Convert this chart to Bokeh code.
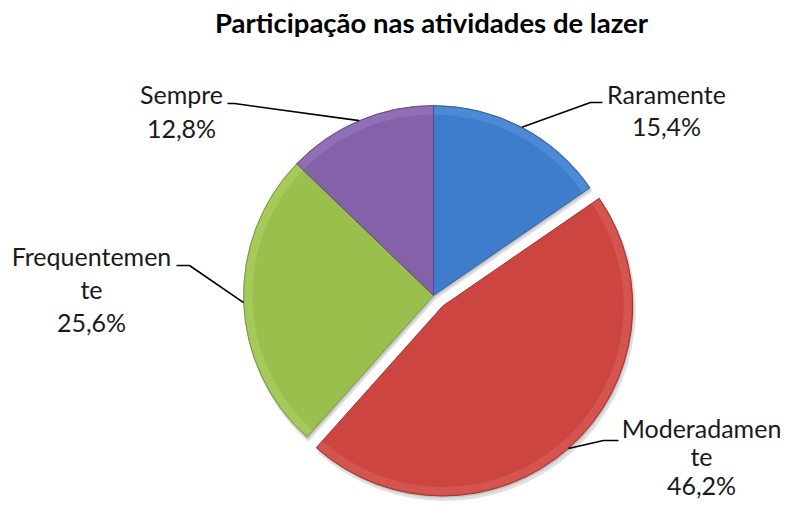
import numpy as np
from bokeh.plotting import figure
from bokeh.models import Range1d
from bokeh.core.properties import value
from bokeh.embed import file_html
from bokeh.resources import INLINE

# ---------------- data ----------------
title_text = "Participação nas atividades de lazer"
categories = ["Raramente", "Moderadamente", "Frequentemente", "Sempre"]
percent = [15.4, 46.2, 25.6, 12.8]
# category labels as wrapped in the original chart
label_names = [["Raramente"], ["Moderadamen", "te"], ["Frequentemen", "te"], ["Sempre"]]

# ---------------- style / layout ----------------
W, H = 781, 502
fill_colors = ["#3E7DCB", "#CD4541", "#9BBF4C", "#8461A9"]
rim_colors = ["#5B95DB", "#DB605B", "#AFD267", "#9A7BBE"]
edge_colors = ["#2C5D9A", "#9A2E2B", "#76933A", "#5F4380"]
explode = [0, 14, 0, 0]
FONT = "Lato"
TXT_DY = 10  # renderer places text slightly below requested baseline


def X(px):
    return px


def Y(py):
    return H - py


cx, cy, R = X(433), Y(295), 190.0

# label layout: text center x, first baseline y, line step, leader knee, leader stub end (px)
label_layout = [
    dict(cx=666, by=103, step=32, knee=(590, 102), stub=(602, 102)),
    dict(cx=701, by=437, step=28.5, knee=(603, 440), stub=(618, 440)),
    dict(cx=91, by=265, step=33, knee=(189, 265), stub=(176, 265)),
    dict(cx=181, by=103, step=34, knee=(234, 103), stub=(227, 103)),
]

p = figure(width=W, height=H, output_backend="svg", toolbar_location=None,
           x_range=Range1d(0, W), y_range=Range1d(0, H),
           min_border=0, min_border_left=0, min_border_right=0,
           min_border_top=0, min_border_bottom=0)
p.axis.visible = False
p.grid.visible = False
p.outline_line_color = None
p.background_fill_color = "white"
p.border_fill_color = "white"

vals = np.array(percent, dtype=float)
frac = vals / vals.sum()
cum = np.concatenate([[0], np.cumsum(frac)])
starts = np.pi / 2 - 2 * np.pi * cum[:-1]
ends = np.pi / 2 - 2 * np.pi * cum[1:]
mids = (starts + ends) / 2
ox = cx + np.array(explode) * np.cos(mids)
oy = cy + np.array(explode) * np.sin(mids)

# soft shadow
p.wedge(x=list(ox + 2), y=list(oy - 4), radius=R + 1, start_angle=list(starts), end_angle=list(ends),
        direction="clock", fill_color="#000000", fill_alpha=0.12, line_color=None)
p.wedge(x=list(ox + 1), y=list(oy - 2), radius=R, start_angle=list(starts), end_angle=list(ends),
        direction="clock", fill_color="#000000", fill_alpha=0.12, line_color=None)

# main slices
p.wedge(x=list(ox), y=list(oy), radius=R, start_angle=list(starts), end_angle=list(ends),
        direction="clock", fill_color=fill_colors, line_color=None)
# bevel rim
p.annular_wedge(x=list(ox), y=list(oy), inner_radius=R - 9, outer_radius=R - 1,
                start_angle=list(starts), end_angle=list(ends), direction="clock",
                fill_color=rim_colors, fill_alpha=0.55, line_color=None)
p.wedge(x=list(ox), y=list(oy), radius=R, start_angle=list(starts), end_angle=list(ends),
        direction="clock", fill_color=None, line_color=edge_colors, line_width=1, line_alpha=0.9)

# leader lines + labels
for i in range(len(categories)):
    lay = label_layout[i]
    sx = ox[i] + R * np.cos(mids[i])
    sy = oy[i] + R * np.sin(mids[i])
    kx, ky = lay["knee"]
    ex, ey = lay["stub"]
    p.line(x=[sx, X(kx), X(ex)], y=[sy, Y(ky), Y(ey)], line_color="#000000", line_width=1.6)
    lines = label_names[i] + [f"{percent[i]:.1f}%".replace(".", ",")]
    xs = [X(lay["cx"])] * len(lines)
    ys = [Y(lay["by"] - TXT_DY + k * lay["step"]) for k in range(len(lines))]
    p.text(x=xs, y=ys, text=lines, text_align="center", text_baseline="alphabetic",
           text_font=value(FONT), text_font_size="25px", text_color="#1a1a1a")

# title
p.text(x=[X(431)], y=[Y(32 - TXT_DY)], text=[title_text], text_align="center", text_baseline="alphabetic",
       text_font=value(FONT), text_font_size="27.5px", text_font_style="bold", text_color="#000000")

open("out.html", "w").write(file_html(p, INLINE))
